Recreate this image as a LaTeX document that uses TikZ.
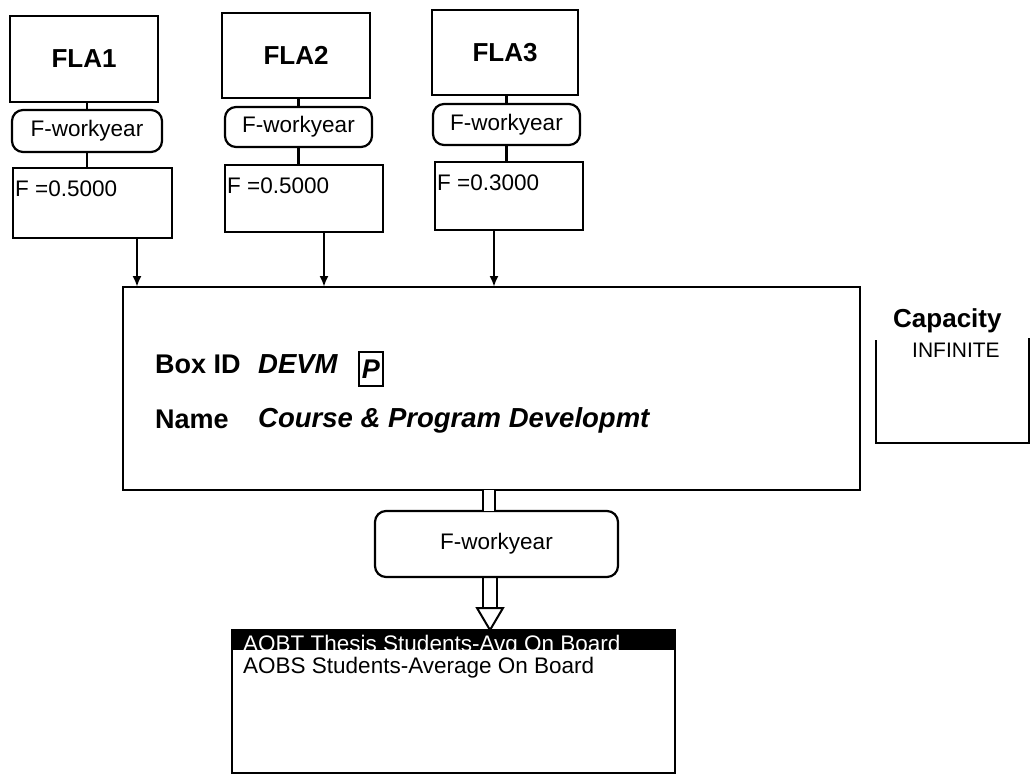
\documentclass[tikz,border=0pt]{standalone}
\usepackage{fontspec}
\setmainfont{Liberation Sans}
\usetikzlibrary{arrows.meta}
\begin{document}
\begin{tikzpicture}[x=1pt,y=-1pt,
  box/.style={draw, line width=2.2pt, inner sep=0pt, outer sep=0pt, anchor=north west},
  rbox/.style={box, rounded corners=11pt, font=\fontsize{22.5}{22.5}\selectfont},
  conn/.style={line width=2.2pt},
  arr/.style={line width=2.2pt, -{Latex[length=11pt,width=9pt]}},
  ttl/.style={font=\bfseries\fontsize{26}{26}\selectfont},
  fval/.style={anchor=base west, inner sep=0pt, font=\fontsize{22.5}{22.5}\selectfont},
  lbl/.style={anchor=base west, inner sep=0pt, font=\bfseries\fontsize{27}{27}\selectfont},
  ital/.style={anchor=base west, inner sep=0pt, font=\bfseries\itshape\fontsize{27.5}{27.5}\selectfont},
  txt/.style={anchor=base west, inner sep=0pt, font=\fontsize{22.5}{22.5}\selectfont}
]
\useasboundingbox (0,0) rectangle (1034,777);

% top boxes
\node[box, ttl, minimum width=148, minimum height=86] (fla1) at (10,16) {FLA1};
\node[rbox, minimum width=150, minimum height=42] (rw1) at (12,110) {F-workyear};
\node[box, minimum width=159, minimum height=70] (fb1) at (13,168) {};
\node[fval] (ft1) at (15,196) {F =0.5000};

\node[box, ttl, minimum width=148, minimum height=85] (fla2) at (222,13) {FLA2};
\node[rbox, minimum width=147, minimum height=40] (rw2) at (225,107) {F-workyear};
\node[box, minimum width=158, minimum height=67] (fb2) at (225,165) {};
\node[fval] (ft2) at (227,193) {F =0.5000};

\node[box, ttl, minimum width=146, minimum height=85] (fla3) at (432,10) {FLA3};
\node[rbox, minimum width=147, minimum height=41] (rw3) at (433,104) {F-workyear};
\node[box, minimum width=148, minimum height=68] (fb3) at (435,162) {};
\node[fval] (ft3) at (437,190) {F =0.3000};

% main box
\node[box, minimum width=737, minimum height=203] (main) at (123,287) {};
\node[lbl] (boxid) at (155,373) {Box ID};
\node[ital] (devm) at (258,373) {DEVM};
\node[box, line width=2pt, minimum width=24, minimum height=34, font=\bfseries\itshape\fontsize{27}{27}\selectfont] (pbox) at (359,352) {P};
\node[lbl] (namel) at (155,428) {Name};
\node[ital] (namev) at (258,427) {Course \& Program Developmt};

% capacity
\node[anchor=base west, inner sep=0pt, font=\bfseries\fontsize{26}{26}\selectfont] (cap) at (893,327) {Capacity};
\node[anchor=base west, inner sep=0pt, font=\fontsize{21}{21}\selectfont] (inf) at (912,357) {INFINITE};
\draw[conn] (876,340) -- (876,443) -- (1029,443) -- (1029,338);

% connectors top
\foreach \i in {1,2,3}{
  \draw[conn] (rw\i.north |- fla\i.south) -- (rw\i.north);
  \draw[conn] (rw\i.south) -- (rw\i.south |- fb\i.north);
}
\coordinate (a1) at (137,0);
\coordinate (a2) at (324,0);
\coordinate (a3) at (494,0);
\draw[arr] (a1 |- fb1.south) -- (a1 |- main.north);
\draw[arr] (a2 |- fb2.south) -- (a2 |- main.north);
\draw[arr] (a3 |- fb3.south) -- (a3 |- main.north);

% output side
\node[rbox, minimum width=243, minimum height=66] (rw4) at (375,511) {F-workyear};
\node[box, minimum width=443, minimum height=143] (out) at (232,630) {};
\fill (out.north west) rectangle ([yshift=-20]out.north east);
\begin{scope}
\clip (out.north west) rectangle ([yshift=-20]out.north east);
\node[txt, text=white, text depth=0pt] (aobt) at (243,651) {AOBT Thesis Students-Avg On Board};
\end{scope}
\node[txt, text height=16pt] (aobs) at (243,673) {AOBS Students-Average On Board};

\coordinate (dc) at (488.5,0);
\draw[line width=2pt, double distance=10pt] (dc |- main.south) -- (dc |- rw4.north);
\coordinate (atip) at (490,0);
\coordinate (abase) at (490,608);
\draw[line width=2pt] ([xshift=-7]atip |- rw4.south) -- ([xshift=-7]abase);
\draw[line width=2pt] ([xshift=7]atip |- rw4.south) -- ([xshift=7]abase);
\draw[line width=2pt, fill=white, line join=miter] ([xshift=-13]abase) -- ([xshift=13]abase) -- (atip |- out.north) -- cycle;
\end{tikzpicture}
\end{document}
